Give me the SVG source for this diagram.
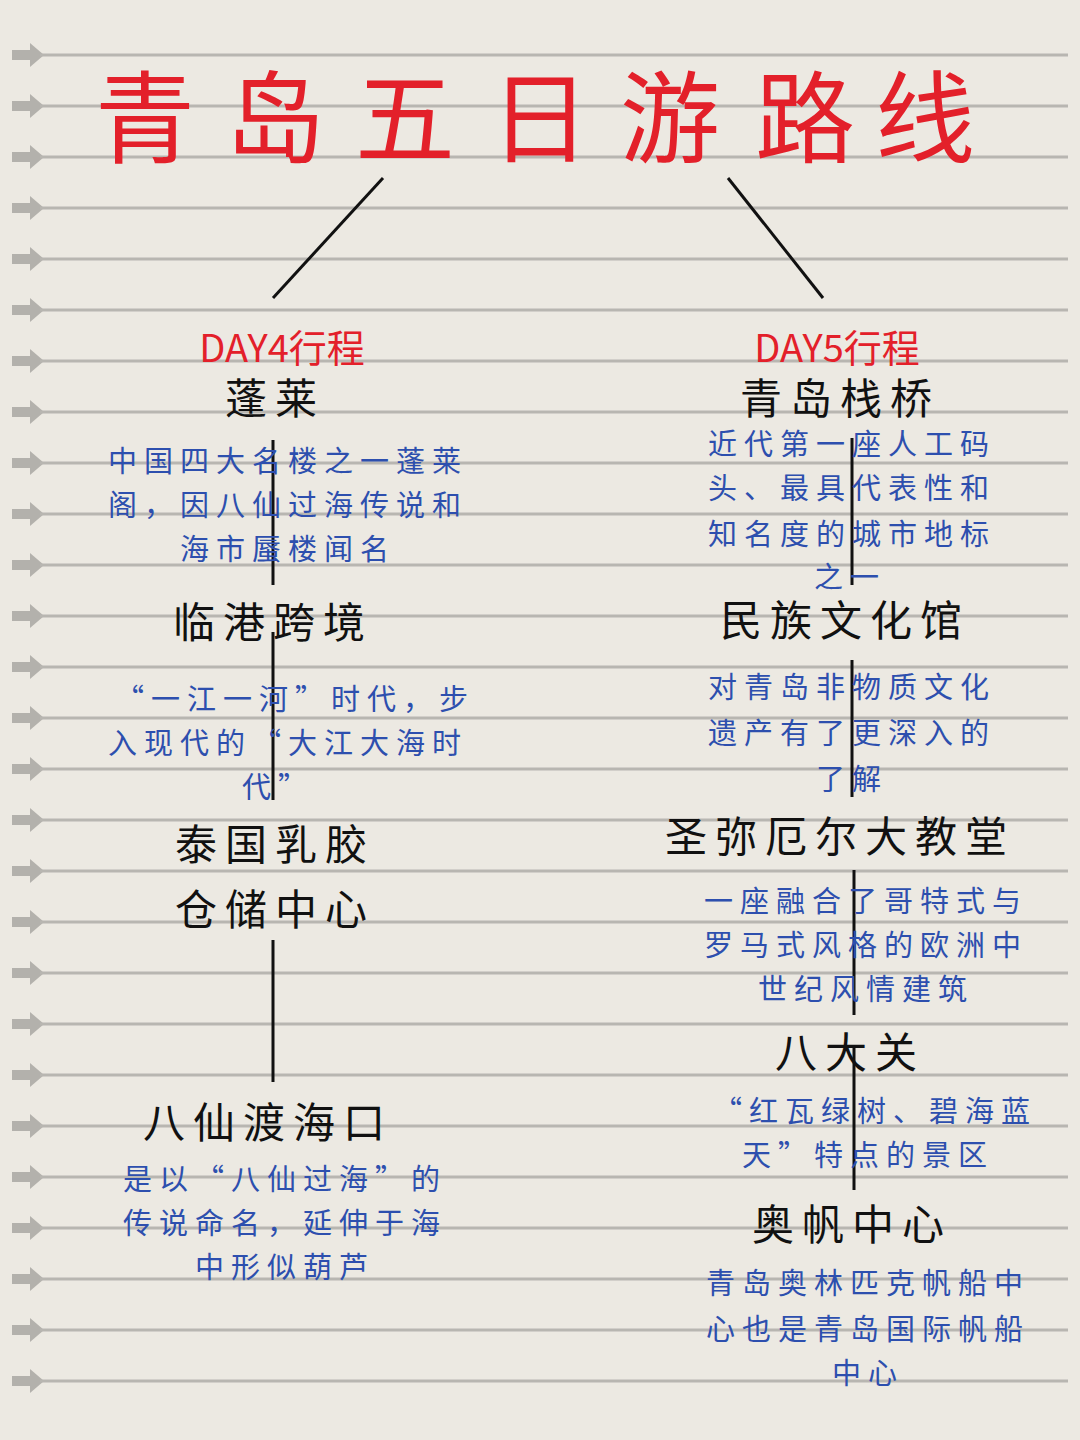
<svg xmlns="http://www.w3.org/2000/svg" width="1080" height="1440" viewBox="0 0 1080 1440">
<defs>
<g id="ar"><rect x="12" y="-5" width="20" height="10" fill="#b3b1ac"/><polygon points="30,-12 44,0 30,12" fill="#b3b1ac"/><line x1="40" y1="0" x2="1068" y2="0" stroke="#b8b6b1" stroke-width="3"/></g>
</defs>
<style>
text{font-family:"Noto Sans CJK SC","Noto Sans",sans-serif;text-anchor:middle}
.t{fill:#e3202a;font-size:100px}
.d{fill:#e3202a;font-size:38px}
.h{fill:#111;font-size:42px;letter-spacing:8px}
.b{fill:#2d4fae;font-size:29px;letter-spacing:7px}
.v{stroke:#111;stroke-width:3}
</style>
<rect width="1080" height="1440" fill="#ece9e2"/>
<g id="lines">
<use href="#ar" y="55"/><use href="#ar" y="106"/><use href="#ar" y="157"/><use href="#ar" y="208"/><use href="#ar" y="259"/><use href="#ar" y="310"/><use href="#ar" y="361"/><use href="#ar" y="412"/><use href="#ar" y="463"/><use href="#ar" y="514"/><use href="#ar" y="565"/><use href="#ar" y="616"/><use href="#ar" y="667"/><use href="#ar" y="718"/><use href="#ar" y="769"/><use href="#ar" y="820"/><use href="#ar" y="871"/><use href="#ar" y="922"/><use href="#ar" y="973"/><use href="#ar" y="1024"/><use href="#ar" y="1075"/><use href="#ar" y="1126"/><use href="#ar" y="1177"/><use href="#ar" y="1228"/><use href="#ar" y="1279"/><use href="#ar" y="1330"/><use href="#ar" y="1381"/>
</g>
<g id="title">
<text class="t" x="145" y="155">青</text><text class="t" x="275" y="155">岛</text><text class="t" x="405" y="155">五</text><text class="t" x="540" y="155">日</text><text class="t" x="670" y="155">游</text><text class="t" x="805" y="155">路</text><text class="t" x="925" y="155">线</text>
</g>
<g id="connectors">
<line class="v" x1="383" y1="178" x2="273" y2="298"/><line class="v" x1="728" y1="178" x2="823" y2="298"/>
<line class="v" x1="273" y1="440" x2="273" y2="585"/><line class="v" x1="273" y1="632" x2="273" y2="800"/><line class="v" x1="273" y1="940" x2="273" y2="1082"/>
<line class="v" x1="852" y1="438" x2="852" y2="585"/><line class="v" x1="852" y1="660" x2="852" y2="797"/><line class="v" x1="854" y1="870" x2="854" y2="1015"/><line class="v" x1="854" y1="1045" x2="854" y2="1190"/>
</g>
<g id="day4">
<text class="d" x="282" y="362">DAY4行程</text>
<text class="h" x="275" y="414">蓬莱</text>
<text class="b" x="288" y="472">中国四大名楼之一蓬莱</text>
<text class="b" x="288" y="516">阁，因八仙过海传说和</text>
<text class="b" x="288" y="560">海市蜃楼闻名</text>
<text class="h" x="273" y="638">临港跨境</text>
<text class="b" x="295" y="710">“一江一河”时代，步</text>
<text class="b" x="288" y="754">入现代的“大江大海时</text>
<text class="b" x="278" y="798">代”</text>
<text class="h" x="275" y="860">泰国乳胶</text>
<text class="h" x="275" y="925">仓储中心</text>
<text class="h" x="268" y="1138">八仙渡海口</text>
<text class="b" x="285" y="1190">是以“八仙过海”的</text>
<text class="b" x="285" y="1234">传说命名，延伸于海</text>
<text class="b" x="285" y="1278">中形似葫芦</text>
</g>
<g id="day5">
<text class="d" x="837" y="362">DAY5行程</text>
<text class="h" x="840" y="414">青岛栈桥</text>
<text class="b" x="852" y="455">近代第一座人工码</text>
<text class="b" x="852" y="499">头、最具代表性和</text>
<text class="b" x="852" y="545">知名度的城市地标</text>
<text class="b" x="850" y="588">之一</text>
<text class="h" x="845" y="636">民族文化馆</text>
<text class="b" x="852" y="698">对青岛非物质文化</text>
<text class="b" x="852" y="744">遗产有了更深入的</text>
<text class="b" x="852" y="790">了解</text>
<text class="h" x="840" y="852">圣弥厄尔大教堂</text>
<text class="b" x="866" y="912">一座融合了哥特式与</text>
<text class="b" x="866" y="956">罗马式风格的欧洲中</text>
<text class="b" x="866" y="1000">世纪风情建筑</text>
<text class="h" x="850" y="1068">八大关</text>
<text class="b" x="875" y="1122">“红瓦绿树、碧海蓝</text>
<text class="b" x="868" y="1166">天”特点的景区</text>
<text class="h" x="852" y="1240">奥帆中心</text>
<text class="b" x="868" y="1294">青岛奥林匹克帆船中</text>
<text class="b" x="868" y="1340">心也是青岛国际帆船</text>
<text class="b" x="868" y="1384">中心</text>
</g>
</svg>
